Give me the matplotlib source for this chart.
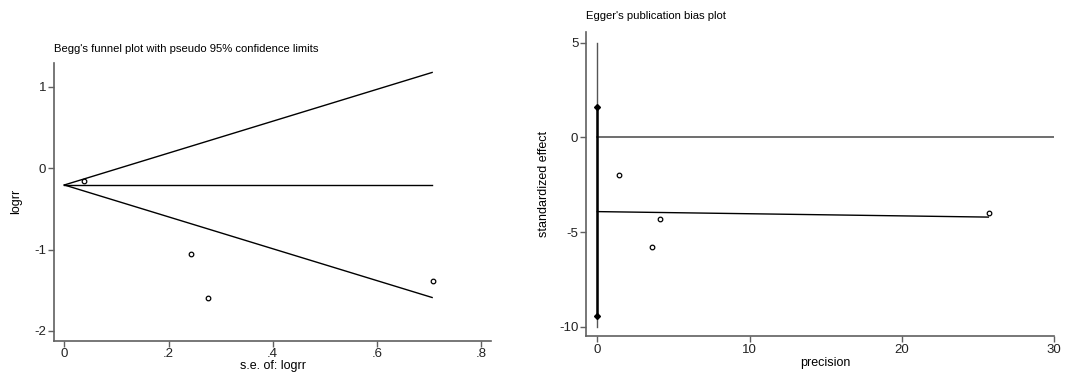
import matplotlib
matplotlib.use('Agg')
import matplotlib.pyplot as plt
import numpy as np

plt.rcParams['font.family'] = ['Liberation Sans', 'DejaVu Sans']
plt.rcParams['axes.unicode_minus'] = False

# Begg's funnel plot data
se_logrr = [0.038, 0.243, 0.275, 0.708]
logrr = [-0.16, -1.05, -1.60, -1.386]
pooled = -0.205
funnel_se = [0.0, 0.706]

# Egger's plot data
precision = [1.40, 4.10, 3.61, 25.72]
std_effect = [-1.97, -4.31, -5.79, -3.98]
egger_intercept = -3.92
egger_ci = [1.62, -9.46]
egger_slope = -0.0113
egger_x = [0.0, 25.67]

spine_col = '#606060'

fig = plt.figure(figsize=(10.81, 3.74), dpi=100)
ax1 = fig.add_axes([54 / 1081, 1 - 340.7 / 374, 437 / 1081, 277.7 / 374])
ax2 = fig.add_axes([586 / 1081, 1 - 336 / 374, 468.3 / 1081, 303.7 / 374])

for ax in (ax1, ax2):
    for s in ('top', 'right'):
        ax.spines[s].set_visible(False)
    for s in ('left', 'bottom'):
        ax.spines[s].set_color(spine_col)
        ax.spines[s].set_linewidth(1.2)
    ax.tick_params(labelcolor='#222222', color=spine_col, labelsize=9.5,
                   length=4, width=1, pad=1.5, direction='out')

# left panel: funnel
fs = np.array(funnel_se)
ax1.plot(fs, pooled + 1.96 * fs, color='black', lw=1)
ax1.plot(fs, pooled - 1.96 * fs, color='black', lw=1)
ax1.plot(fs, [pooled, pooled], color='black', lw=1)
ax1.plot(se_logrr, logrr, 'o', ms=3.3, mfc='white', mec='black', mew=0.9)
ax1.set_xlim(-0.0198, 0.819)
ax1.set_ylim(-2.12, 1.295)
ax1.set_xticks([0, 0.2, 0.4, 0.6, 0.8])
ax1.set_xticklabels(['0', '.2', '.4', '.6', '.8'])
ax1.set_yticks([-2, -1, 0, 1])
ax1.set_xlabel('s.e. of: logrr', fontsize=9, va='center')
ax1.set_ylabel('logrr', fontsize=9, va='center')
ax1.xaxis.set_label_coords(0.5, -0.09)
ax1.yaxis.set_label_coords(-0.087, 0.5)
fig.text(54 / 1081, 1 - 49 / 374, "Begg's funnel plot with pseudo 95% confidence limits",
         fontsize=8.1, va='center', ha='left')

# right panel: Egger
ax2.plot([0, 30], [0, 0], color='#555555', lw=1.2)
ax2.plot([0, 0], [5, -10], color='#555555', lw=1)
ax2.plot([0, 0], egger_ci, color='black', lw=1.8, marker='D', ms=3)
ex = np.array(egger_x)
ax2.plot(ex, egger_intercept + egger_slope * ex, color='black', lw=1)
ax2.plot(precision, std_effect, 'o', ms=3.3, mfc='white', mec='black', mew=0.9)
ax2.set_xlim(-0.74, 30)
ax2.set_ylim(-10.49, 5.55)
ax2.set_xticks([0, 10, 20, 30])
ax2.set_yticks([-10, -5, 0, 5])
ax2.set_xlabel('precision', fontsize=9, va='center')
ax2.set_ylabel('standardized effect', fontsize=9, va='center')
ax2.xaxis.set_label_coords(0.512, -0.088)
ax2.yaxis.set_label_coords(-0.0897, 0.5)
fig.text(586 / 1081, 1 - 16 / 374, "Egger's publication bias plot",
         fontsize=8.1, va='center', ha='left')

fig.savefig('out.png', dpi=100)
